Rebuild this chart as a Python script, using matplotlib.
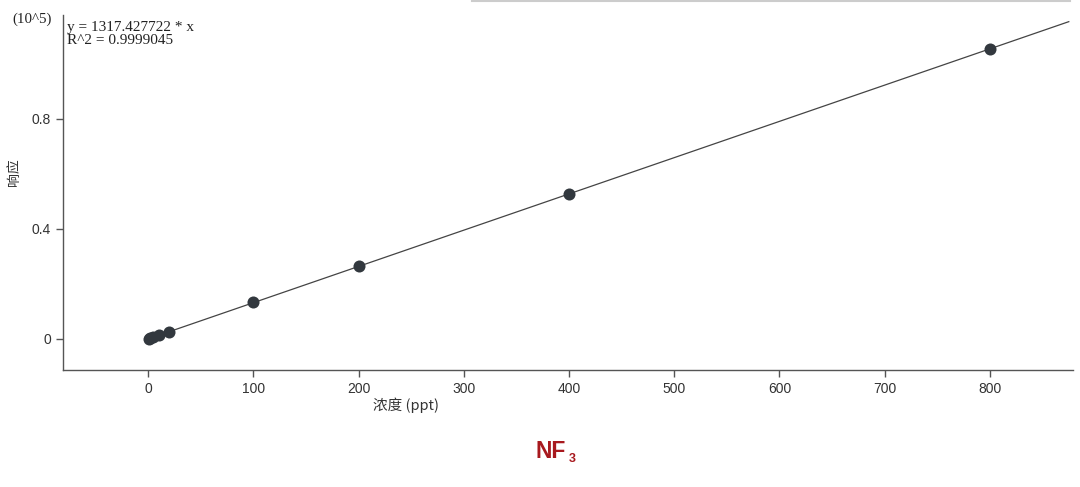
import numpy as np
import matplotlib
matplotlib.use("Agg")
from matplotlib import pyplot as plt
from matplotlib.lines import Line2D
from matplotlib.ticker import FixedLocator, FuncFormatter

# concentration (ppt) and response (in units of 10^5, as on the axis)
conc = [1, 2, 5, 10, 20, 100, 200, 400, 800]
response = [0.0013, 0.0026, 0.0066, 0.0132, 0.0265, 0.136, 0.266, 0.527, 1.054]
x_ticks = [0, 100, 200, 300, 400, 500, 600, 700, 800]
y_ticks = [0, 0.4, 0.8]
fit_text = "y = 1317.427722 * x\nR^2 = 0.9999045"

plt.rcParams["font.family"] = ["Liberation Sans", "Noto Sans CJK SC", "DejaVu Sans"]
cjk = ["Noto Sans CJK SC", "DejaVu Sans"]
grey = "#555555"

fig = plt.figure(figsize=(10.8, 4.87), dpi=100)
ax = fig.add_axes([63 / 1080, 1 - 370 / 487, 1010 / 1080, 355 / 487])

# least squares through origin for the drawn line
c = np.array(conc, dtype=float)
r = np.array(response, dtype=float)
slope = (c * r).sum() / (c * c).sum()
x_line = np.array([0, 875])
ax.plot(x_line, slope * x_line, color="#444444", lw=0.9, zorder=2)
ax.scatter(conc, response, s=75, color="#32383e", zorder=3, linewidths=0)

ax.set_xlim(-81, 879)
ax.set_ylim(-0.113, 1.178)
ax.xaxis.set_major_locator(FixedLocator(x_ticks))
ax.yaxis.set_major_locator(FixedLocator(y_ticks))
ax.yaxis.set_major_formatter(FuncFormatter(lambda v, p: f"{v:g}"))

for side in ("top", "right"):
    ax.spines[side].set_visible(False)
for side in ("left", "bottom"):
    ax.spines[side].set_color(grey)
    ax.spines[side].set_linewidth(1.0)
ax.tick_params(axis="both", colors=grey, labelcolor="#333333", labelsize=10,
               length=5, width=1.0, direction="out")

fig.text(67 / 1080, 1 - 21 / 487, fit_text, ha="left", va="top",
         family="Liberation Serif", fontsize=11, linespacing=1.0, color="#222222")
fig.text(32 / 1080, 1 - 19 / 487, "(10^5)", ha="center", va="center",
         family="Liberation Serif", fontsize=10.8, color="#222222")

fig.text(14 / 1080, 1 - 172 / 487, "响应", rotation=90, ha="center", va="center",
         family=cjk, fontsize=10, color="#333333")
fig.text(406 / 1080, 1 - 405 / 487, "浓度 (ppt)", ha="center", va="center",
         family=cjk, fontsize=10.5, color="#333333")

# compound name with a small, lowered subscript
red = "#a8191e"
fig.text(566 / 1080, 1 - 452 / 487, "NF", ha="right", va="center",
         fontsize=16.5, fontweight="bold", color=red)
fig.text(569 / 1080, 1 - 459 / 487, "3", ha="left", va="center",
         fontsize=9, fontweight="bold", color=red)

# thin grey band along the top edge of the screenshot
fig.add_artist(Line2D([472 / 1080, 1070 / 1080], [1 - 1 / 487, 1 - 1 / 487],
                      transform=fig.transFigure, color="#cccccc", lw=1.5))

fig.savefig("out.png", dpi=100)
